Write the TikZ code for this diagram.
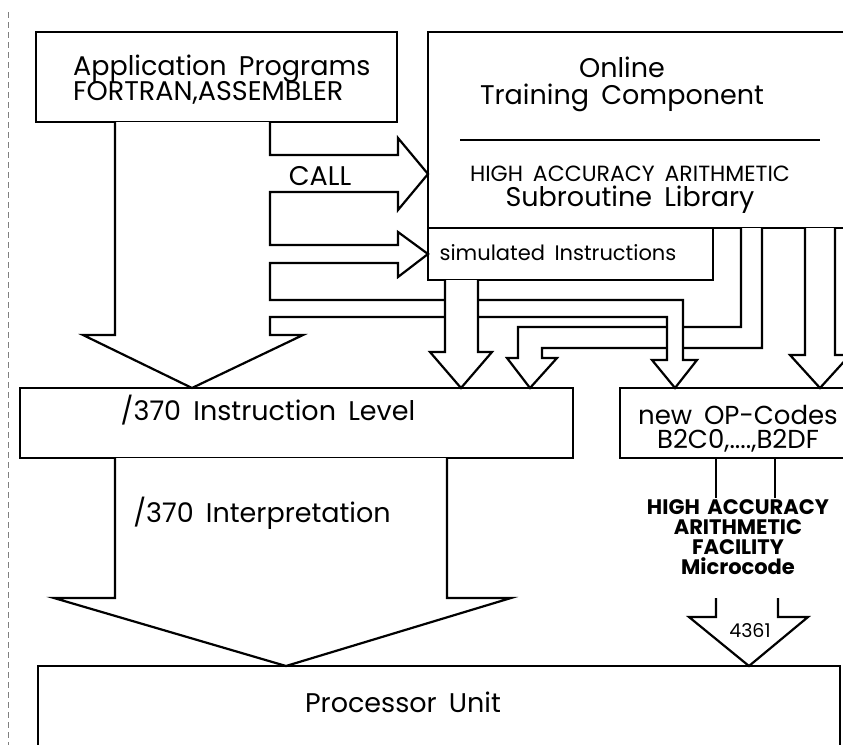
\documentclass[tikz,border=0pt]{standalone}
\usepackage{fontspec}
\setmainfont{Poppins}[WordSpace=1.7]
\usetikzlibrary{fit}
\setlength{\lineskiplimit}{-20pt}

\begin{document}
\begin{tikzpicture}[x=0.5pt,y=-0.5pt,line width=1.1pt,
  box/.style={draw,inner sep=0pt},
  lbl/.style={font=\fontsize{13.5}{10}\selectfont,align=center,inner sep=0pt},
  fac/.style={font=\fontsize{10.5}{10}\selectfont\bfseries,align=center,inner sep=0pt},
  blockarrow/.style={draw,fill=white}]
\useasboundingbox (0,0) rectangle (843,745);
\clip (0,0) rectangle (843,745);
\draw[line width=0.4pt,densely dashed,gray] (8,12) -- (8,745);
% boxes
\node[box,fit={(36,32) (397,122)}] (app) {};
\node[box,fit={(428,32) (870,228)}] (online) {};
\node[box,fit={(428,228) (713,280)}] (sim) {};
\node[box,fit={(20,388) (573,458)}] (instr) {};
\node[box,fit={(620,388) (870,458)}] (opc) {};
\node[box,fit={(38,666) (840,790)}] (proc) {};
\draw (460,140) -- (820,140);
% library -> /370 level (runs under the OP-code branch)
\draw[blockarrow] (741,228) -- (741,327) -- (518,327) -- (518,358) -- (507,358) -- (530,388) -- (557,358) -- (542,358) -- (542,348) -- (762,348) -- (762,228);
% application programs: CALL branches and direct path
\draw[blockarrow] (115,122) -- (115,335) -- (83,335) -- (192,388) -- (303,335) -- (270,335) -- (270,317) -- (667,317) -- (667,360) -- (652,360) -- (675,388) -- (697,360) -- (683,360) -- (683,300) -- (270,300) -- (270,263) -- (398,263) -- (398,277) -- (428,254) -- (398,232) -- (398,245) -- (270,245) -- (270,192) -- (398,192) -- (398,210) -- (428,174) -- (398,138) -- (398,155) -- (270,155) -- (270,122);
\draw[blockarrow] (445,280) -- (445,352) -- (430,352) -- (461,388) -- (492,352) -- (478,352) -- (478,280);
\draw[blockarrow] (805,228) -- (805,355) -- (790,355) -- (820,388) -- (850,355) -- (835,355) -- (835,228);
\draw[blockarrow] (115,458) -- (115,598) -- (54,598) -- (286,666) -- (511,598) -- (447,598) -- (447,458);
% texts
\node[lbl,anchor=west,align=left,font=\fontsize{13.5}{12.5}\selectfont] (apptxt) at (72,80) {Application Programs\\FORTRAN,ASSEMBLER};
\node[lbl,font=\fontsize{13.5}{13.5}\selectfont] (onltxt) at (622,84) {Online\\Training Component};
\node[lbl,font=\fontsize{13.5}{12.5}\selectfont] (libtxt) at (630,190) {{\fontsize{11}{10}\selectfont HIGH ACCURACY ARITHMETIC}\\Subroutine Library};
\node[lbl] (call) at (320,176) {CALL};
\node[lbl,font=\fontsize{10.5}{10}\selectfont] (simtxt) at (558,253) {simulated Instructions};
\node[lbl] (instrtxt) at (268,410) {/370 Instruction Level};
\node[lbl] (interp) at (262,513) {/370 Interpretation};
\node[lbl,font=\fontsize{13}{12}\selectfont] (opctxt) at (738,429) {new OP-Codes\\B2C0,....,B2DF};
\node[fac] (facility) at (738,537) {HIGH ACCURACY\\ARITHMETIC\\FACILITY\\Microcode};
\node[lbl] (proctxt) at (403,702) {Processor Unit};
% microcode path
\draw (opc.south -| 716,0) -- (facility.north -| 716,0);
\draw (opc.south -| 775,0) -- (facility.north -| 775,0);
\draw[blockarrow] (716,598) -- (716,617) -- (689,617) -- (749,666) -- (808,617) -- (778,617) -- (778,598);
\node[lbl,font=\fontsize{9.5}{10}\selectfont] (mc) at (750,631) {4361};
\end{tikzpicture}
\end{document}
